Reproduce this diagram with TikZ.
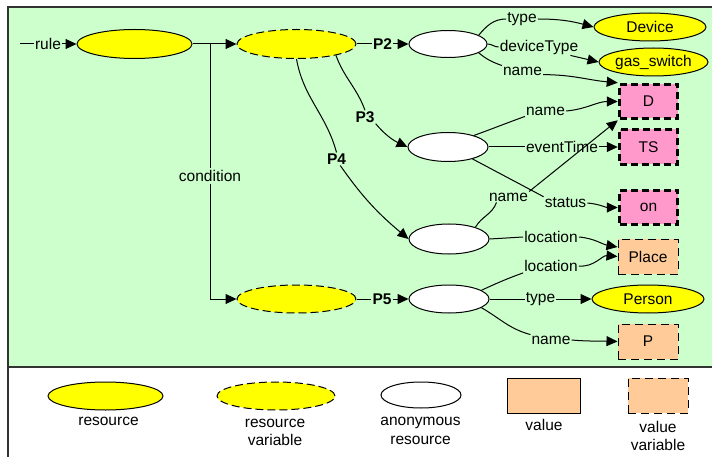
\documentclass[tikz,border=0pt]{standalone}
\usepackage{fontspec}
\setmainfont{Liberation Sans}
\usetikzlibrary{shapes.geometric,arrows.meta}

\definecolor{bggreen}{HTML}{CCFFCC}
\definecolor{resyellow}{HTML}{FFFF00}
\definecolor{varpink}{HTML}{FF99CC}
\definecolor{valorange}{HTML}{FFCC99}

\tikzset{
  every node/.style={font=\fontsize{15.5}{18.5}\selectfont},
  line/.style={line width=1pt, black},
  arr/.style={line, -{Triangle[length=11pt,width=10pt]}},
  frame/.style={line width=1.5pt, black!80},
  resnode/.style={ellipse, draw, line width=1pt, fill=resyellow, inner sep=0pt,
                  minimum width=112pt, minimum height=28pt},
  rvarnode/.style={resnode, dash pattern=on 8pt off 4pt},
  anonnode/.style={ellipse, draw, line width=1pt, fill=white, inner sep=0pt,
                   minimum width=80pt, minimum height=29pt},
  vvarthick/.style={rectangle, draw, fill=varpink, line width=3.5pt,
                    dash pattern=on 7pt off 4pt, inner sep=0pt,
                    minimum width=58pt, minimum height=34pt},
  vvarthin/.style={rectangle, draw, fill=valorange, line width=1pt,
                   dash pattern=on 8pt off 5pt, inner sep=0pt,
                   minimum width=60pt, minimum height=35pt},
  valnode/.style={rectangle, draw, fill=valorange, line width=1pt, inner sep=0pt,
                  minimum width=73pt, minimum height=35pt},
  lbl/.style={inner sep=1pt},
  lblb/.style={inner sep=1pt, font=\fontsize{15.5}{18.5}\selectfont\bfseries},
  legtext/.style={align=center, inner sep=0pt},
}

\begin{document}
\begin{tikzpicture}[x=1pt, y=-1pt]
\useasboundingbox (0,0) rectangle (712,457);

% panels
\fill[bggreen] (8,7) rectangle (712,367);
\draw[frame] (712,7) -- (8,7) -- (8,457);
\draw[frame] (8,367) -- (712,367);

% resources of the rule
\node[resnode, minimum width=115pt, minimum height=29pt] (rule) at (134.5,44) {};
\node[rvarnode, minimum width=119pt, minimum height=29pt] (v1) at (296.5,44) {};
\node[rvarnode, minimum width=119pt, minimum height=28pt] (v2) at (296.5,299) {};

\node[anonnode, minimum width=78pt, minimum height=27pt] (a1) at (448,44) {};
\node[anonnode] (a2) at (448,147) {};
\node[anonnode, minimum height=30pt] (a3) at (449,239) {};
\node[anonnode, minimum height=28pt] (a4) at (449,299) {};

\node[resnode] (dev) at (650,27) {Device};
\node[resnode, minimum width=109pt] (gas) at (653.5,62) {gas\_switch};
\node[resnode] (person) at (648,299) {Person};

\node[vvarthick] (D) at (648.5,101.5) {D};
\node[vvarthick, minimum height=35pt] (TS) at (648.5,147) {TS};
\node[vvarthick] (on) at (648.5,207.5) {on};
\node[vvarthin] (place) at (648,256.5) {Place};
\node[vvarthin] (P) at (648,341.5) {P};

% rule and condition
\coordinate (start) at (20,44);
\coordinate (fork) at (210,44);
\node[lbl] (lrule) at (48,44) {rule};
\draw[line] (start) -- (lrule);
\draw[arr] (lrule) -- (rule);
\draw[arr] (rule) -- (v1);
\node[lbl, inner sep=2pt] (lcond) at (210,176) {condition};
\draw[line] (fork) -- (lcond);
\draw[arr] (lcond) |- (v2);

% properties of the first resource variable
\node[lblb] (lp2) at (382.5,44) {P2};
\draw[line] (v1) -- (lp2);
\draw[arr] (lp2) -- (a1);

\node[lblb] (lp3) at (365,117) {P3};
\draw[line] (v1.-16) to[out=-70,in=110] (lp3.north);
\draw[arr] (lp3.south east) to[out=-50,in=155] (a2.west);

\node[lblb] (lp4) at (336.5,159) {P4};
\draw[line] (v1.south) to[out=-80,in=105] (lp4.north);
\draw[arr] (lp4.-60) to[out=-55,in=140] (a3.west);

\node[lblb] (lp5) at (382,299) {P5};
\draw[line] (v2) -- (lp5);
\draw[arr] (lp5) -- (a4);

% the device
\node[lbl] (lt1) at (522,19) {type};
\draw[line] (a1.16) to[out=50,in=180] (lt1.west);
\draw[arr] (lt1.east) to[out=0,in=165] (dev.west);

\node[lbl] (ldt) at (539,47) {deviceType};
\draw[line] (a1.east) to[out=0,in=180] (ldt.west);
\draw[arr] (ldt.-15) -- (gas.west);

\node[lbl] (ln1) at (522.5,71) {name};
\draw[line] (a1.-16) to[out=-40,in=160] (ln1.north west);
\draw[arr] (ln1.-10) to[out=0,in=175] (D.north west);

% the event
\node[lbl] (ln2) at (545.5,111) {name};
\draw[line] (a2.24) to[out=20,in=200] (ln2.south west);
\draw[arr] (ln2.east) to[out=5,in=180] (D.west);

\node[lbl] (let) at (562,147) {eventTime};
\draw[line] (a2.east) -- (let.west);
\draw[arr] (let.east) -- (TS.west);

\node[lbl] (lst) at (565.5,203) {status};
\draw[line] (a2.-26) -- (lst.north west);
\draw[arr] (lst.east) to[out=-5,in=180] (on.west);

% the place of the device
\node[lbl] (ln3) at (508.5,197) {name};
\draw[line] (a3.24) to[out=60,in=-110] ([xshift=-12pt]ln3.south);
\draw[arr] (ln3.north east) -- (D.south west);

\node[lbl] (lloc1) at (551,237) {location};
\draw[line] (a3.east) -- (lloc1.west);
\draw[arr] (lloc1.east) to[out=-5,in=170] ([yshift=9.5pt]place.west);

% the person
\node[lbl] (lloc2) at (551,266) {location};
\draw[line] (a4.15) to[out=25,in=200] (lloc2.south west);
\draw[arr] (lloc2.east) to[out=-5,in=175] (place.west);

\node[lbl] (lt2) at (540.5,299) {type};
\draw[line] (a4.east) -- (lt2.west);
\draw[arr] (lt2.east) -- (person.west);

\node[lbl] (ln4) at (551,340) {name};
\draw[line] (a4.-15) to[out=-30,in=165] (ln4.north west);
\draw[arr] (ln4.east) to[out=-5,in=178] (P.west);

% legend
\node[resnode, minimum width=115pt] (kres) at (105.5,396) {};
\node[rvarnode, minimum width=118pt] (kvar) at (276,396) {};
\node[anonnode, minimum height=26pt] (kanon) at (421,395) {};
\node[valnode] (kval) at (543.5,395.5) {};
\node[vvarthin] (kvv) at (658,395.5) {};

\node[legtext] (tres) at (108.5,421) {resource};
\node[legtext] (tvar) at (275,432.5) {resource\\variable};
\node[legtext] (tanon) at (420.5,431) {anonymous\\resource};
\node[legtext] (tval) at (544,425) {value};
\node[legtext] (tvv) at (658,436) {value\\variable};
\end{tikzpicture}
\end{document}
